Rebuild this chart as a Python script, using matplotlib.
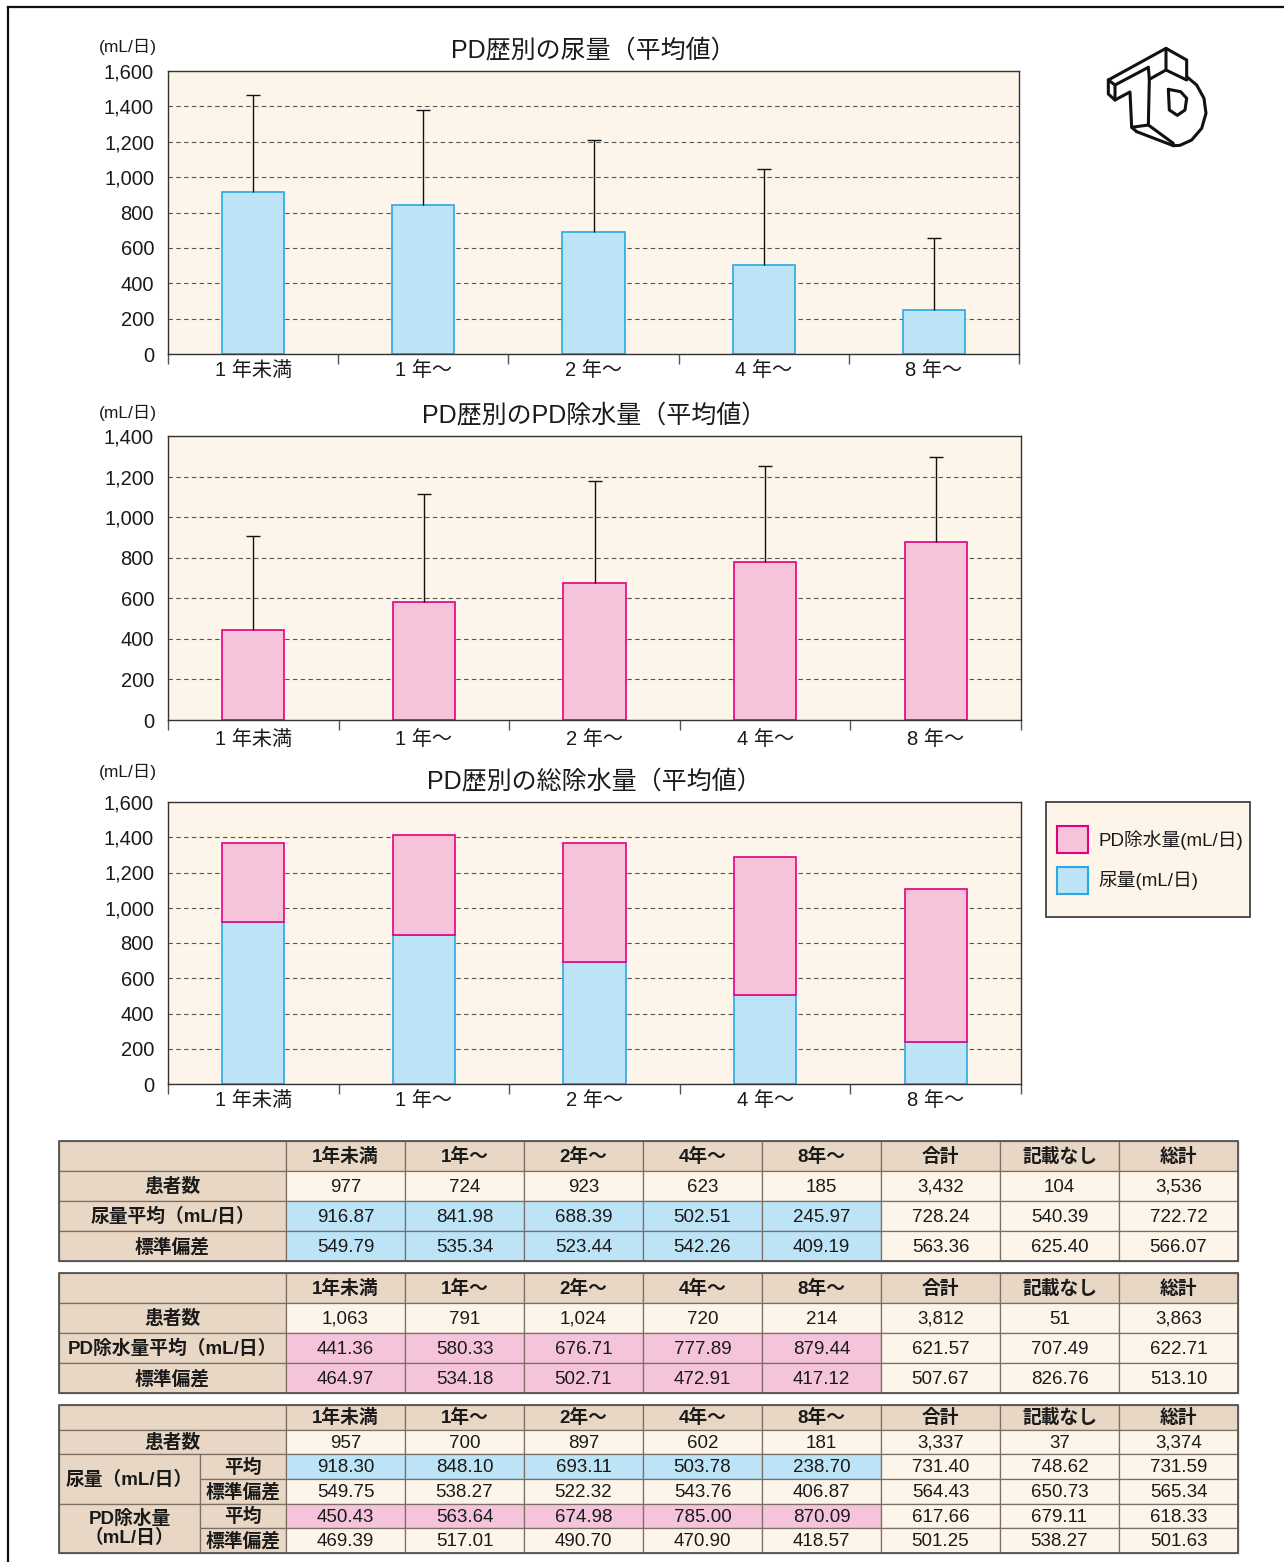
import matplotlib
matplotlib.use('Agg')
import matplotlib.pyplot as plt
from matplotlib.patches import Rectangle, Patch
import numpy as np

plt.rcParams['font.family'] = ['Liberation Sans', 'Noto Sans CJK JP', 'DejaVu Sans']

W, H = 1284, 1562

# ---- data ----
categories = ['1 年未満', '1 年～', '2 年～', '4 年～', '8 年～']
col_headers = ['1年未満', '1年～', '2年～', '4年～', '8年～', '合計', '記載なし', '総計']

# table 1: urine volume
n_urine = [977, 724, 923, 623, 185, 3432, 104, 3536]
urine_mean = [916.87, 841.98, 688.39, 502.51, 245.97, 728.24, 540.39, 722.72]
urine_sd = [549.79, 535.34, 523.44, 542.26, 409.19, 563.36, 625.40, 566.07]

# table 2: PD ultrafiltration
n_pd = [1063, 791, 1024, 720, 214, 3812, 51, 3863]
pd_mean = [441.36, 580.33, 676.71, 777.89, 879.44, 621.57, 707.49, 622.71]
pd_sd = [464.97, 534.18, 502.71, 472.91, 417.12, 507.67, 826.76, 513.10]

# table 3: both
n_both = [957, 700, 897, 602, 181, 3337, 37, 3374]
both_urine_mean = [918.30, 848.10, 693.11, 503.78, 238.70, 731.40, 748.62, 731.59]
both_urine_sd = [549.75, 538.27, 522.32, 543.76, 406.87, 564.43, 650.73, 565.34]
both_pd_mean = [450.43, 563.64, 674.98, 785.00, 870.09, 617.66, 679.11, 618.33]
both_pd_sd = [469.39, 517.01, 490.70, 470.90, 418.57, 501.25, 538.27, 501.63]

# ---- colours ----
bg = '#fdf5e9'
blue, blue_e = '#bde3f6', '#29a9e0'
pink, pink_e = '#f5c4da', '#e4007f'
tan = '#e8d7c4'
line_c = '#7a6e66'
txt = '#1a1a1a'

fig = plt.figure(figsize=(W / 100, H / 100), dpi=100)


def rect(x0, y0, x1, y1):
    return [x0 / W, 1 - y1 / H, (x1 - x0) / W, (y1 - y0) / H]


# overlay axes in pixel coords for frame, logo, tables
ov = fig.add_axes([0, 0, 1, 1])
ov.set_xlim(0, W)
ov.set_ylim(H, 0)
ov.axis('off')
ov.plot([8, W], [7, 7], color='#111', lw=1.6)
ov.plot([8, 8], [7, H], color='#111', lw=1.6)


def setup_chart(ax, ymax, title, unit_y, xpad):
    ax.set_facecolor(bg)
    ax.set_xlim(-0.5, 4.5)
    ax.set_ylim(0, ymax)
    ax.set_yticks(np.arange(0, ymax + 1, 200))
    ax.set_yticklabels([f'{int(v):,}' for v in np.arange(0, ymax + 1, 200)])
    ax.yaxis.grid(True, color='#555', linestyle=(0, (4, 3)), linewidth=0.8)
    ax.set_axisbelow(True)
    ax.tick_params(axis='y', length=0, labelsize=14.5, pad=10, colors=txt)
    ax.set_xticks(range(5))
    ax.set_xticklabels(categories)
    ax.set_xticks(np.arange(-0.5, 5, 1), minor=True)
    ax.tick_params(axis='x', which='major', length=0, labelsize=14.5, pad=xpad, colors=txt)
    ax.tick_params(axis='x', which='minor', length=7, width=1, color='#555')
    for s in ax.spines.values():
        s.set_color('#333')
        s.set_linewidth(1)
    ax.set_title(title, fontsize=18, pad=10, color=txt)
    fig.text(128 / W, 1 - unit_y / H, '(mL/日)', fontsize=12.5, ha='center', va='center', color=txt)


x = np.arange(5)
bw = 0.365

# chart 1: urine
ax1 = fig.add_axes(rect(168, 71, 1019, 354))
setup_chart(ax1, 1600, 'PD歴別の尿量（平均値）', 47, 5)
ax1.bar(x, urine_mean[:5], width=bw, color=blue, edgecolor=blue_e, linewidth=1.2, zorder=2)
ax1.vlines(x, urine_mean[:5], np.add(urine_mean[:5], urine_sd[:5]), color='#111', lw=1, zorder=3)
ax1.plot(x, np.add(urine_mean[:5], urine_sd[:5]), ls='none', marker='_', ms=10, mew=1, color='#111', zorder=3)

# chart 2: PD ultrafiltration
ax2 = fig.add_axes(rect(168, 436, 1021, 720))
setup_chart(ax2, 1400, 'PD歴別のPD除水量（平均値）', 413, 7)
ax2.bar(x, pd_mean[:5], width=bw, color=pink, edgecolor=pink_e, linewidth=1.2, zorder=2)
ax2.vlines(x, pd_mean[:5], np.add(pd_mean[:5], pd_sd[:5]), color='#111', lw=1, zorder=3)
ax2.plot(x, np.add(pd_mean[:5], pd_sd[:5]), ls='none', marker='_', ms=10, mew=1, color='#111', zorder=3)

# chart 3: total removal (stacked)
ax3 = fig.add_axes(rect(168, 802, 1021, 1084))
setup_chart(ax3, 1600, 'PD歴別の総除水量（平均値）', 772, 5)
ax3.bar(x, both_urine_mean[:5], width=bw, color=blue, edgecolor=blue_e, linewidth=1.2, zorder=2)
ax3.bar(x, both_pd_mean[:5], bottom=both_urine_mean[:5], width=bw, color=pink,
        edgecolor=pink_e, linewidth=1.2, zorder=2)

# legend in its own box
ov.add_patch(Rectangle((1046, 802), 204, 115, facecolor=bg, edgecolor='#333', lw=1.2))
handles = [Patch(facecolor=pink, edgecolor=pink_e, linewidth=1.5),
           Patch(facecolor=blue, edgecolor=blue_e, linewidth=1.5)]
leg = fig.legend(handles, ['PD除水量(mL/日)', '尿量(mL/日)'], loc='center',
                 bbox_to_anchor=(1150 / W, 1 - 860 / H), fontsize=13.5, frameon=False,
                 handlelength=1.65, handleheight=1.8, handletextpad=0.55,
                 borderpad=0, labelspacing=0.75, borderaxespad=0)
for t in leg.get_texts():
    t.set_color(txt)

# ---- logo ----
def z(pts):
    return [1090 + p[0] / 3 for p in pts], [30 + p[1] / 3 for p in pts]

logo_lines = [
    [(55, 150), (228, 55), (290, 90), (290, 140)],
    [(55, 150), (55, 192), (75, 210), (120, 186), (125, 292), (140, 305)],
    [(55, 150), (75, 165), (75, 210)],
    [(75, 165), (175, 112)],
    [(228, 55), (228, 120), (290, 150)],
    [(228, 120), (178, 148), (175, 285), (250, 340)],
    [(178, 148), (175, 112)],
    [(125, 292), (175, 285)],
    [(140, 305), (250, 347)],
    [(290, 140), (320, 165), (342, 205), (348, 250), (335, 295), (305, 330), (270, 346), (250, 347)],
    [(235, 178), (238, 240), (262, 256), (285, 240), (290, 205), (272, 185), (235, 178)],
]
for pts in logo_lines:
    xs, ys = z(pts)
    ov.plot(xs, ys, color='#111', lw=2.2, solid_joinstyle='round', solid_capstyle='round')

# ---- tables ----
cols = [59, 286, 405, 524, 643, 762, 881, 1000, 1119, 1238]


def cell(x0, x1, y0, y1, text, fc, bold=False, fs=13.5):
    ov.add_patch(Rectangle((x0, y0), x1 - x0, y1 - y0, facecolor=fc, edgecolor=line_c, lw=0.9))
    if text:
        multi = '\n' in text
        ov.text((x0 + x1) / 2, (y0 + y1) / 2 - (0 if multi else 1), text, ha='center',
                va='center' if multi else 'center_baseline', fontsize=fs,
                color=txt, fontweight='bold' if bold else 'normal', linespacing=1.05)


def fmt_n(v):
    return f'{v:,}'


def fmt_f(v):
    return f'{v:.2f}'


def header_row(y0, y1):
    cell(cols[0], cols[1], y0, y1, '', tan)
    for i, h in enumerate(col_headers):
        cell(cols[i + 1], cols[i + 2], y0, y1, h, tan, bold=True)


def data_row(y0, y1, values, hl):
    for i, v in enumerate(values):
        fc = hl if (hl and i < 5) else bg
        cell(cols[i + 1], cols[i + 2], y0, y1, v, fc)


def simple_table(y0, rh, rows):
    header_row(y0, y0 + rh)
    for r, (label, vals, hl) in enumerate(rows):
        ya, yb = y0 + rh * (r + 1), y0 + rh * (r + 2)
        cell(cols[0], cols[1], ya, yb, label, tan, bold=True)
        data_row(ya, yb, vals, hl)
    ov.add_patch(Rectangle((cols[0], y0), cols[-1] - cols[0], rh * (len(rows) + 1),
                           fill=False, edgecolor='#555', lw=1.3))


simple_table(1141, 30, [
    ('患者数', [fmt_n(v) for v in n_urine], None),
    ('尿量平均（mL/日）', [fmt_f(v) for v in urine_mean], blue),
    ('標準偏差', [fmt_f(v) for v in urine_sd], blue),
])
simple_table(1273, 30, [
    ('患者数', [fmt_n(v) for v in n_pd], None),
    ('PD除水量平均（mL/日）', [fmt_f(v) for v in pd_mean], pink),
    ('標準偏差', [fmt_f(v) for v in pd_sd], pink),
])

# table 3
t0, rh = 1405, 148 / 6
sub = 200
header_row(t0, t0 + rh)
cell(cols[0], cols[1], t0 + rh, t0 + 2 * rh, '患者数', tan, bold=True)
data_row(t0 + rh, t0 + 2 * rh, [fmt_n(v) for v in n_both], None)
groups = [('尿量（mL/日）', both_urine_mean, both_urine_sd, blue),
          ('PD除水量\n（mL/日）', both_pd_mean, both_pd_sd, pink)]
for g, (label, mean, sd, hl) in enumerate(groups):
    ya = t0 + rh * (2 + 2 * g)
    cell(cols[0], sub, ya, ya + 2 * rh, label, tan, bold=True)
    cell(sub, cols[1], ya, ya + rh, '平均', tan, bold=True)
    cell(sub, cols[1], ya + rh, ya + 2 * rh, '標準偏差', tan, bold=True)
    data_row(ya, ya + rh, [fmt_f(v) for v in mean], hl)
    data_row(ya + rh, ya + 2 * rh, [fmt_f(v) for v in sd], None)
ov.add_patch(Rectangle((cols[0], t0), cols[-1] - cols[0], rh * 6,
                       fill=False, edgecolor='#555', lw=1.3))

fig.savefig('out.png', dpi=100)
